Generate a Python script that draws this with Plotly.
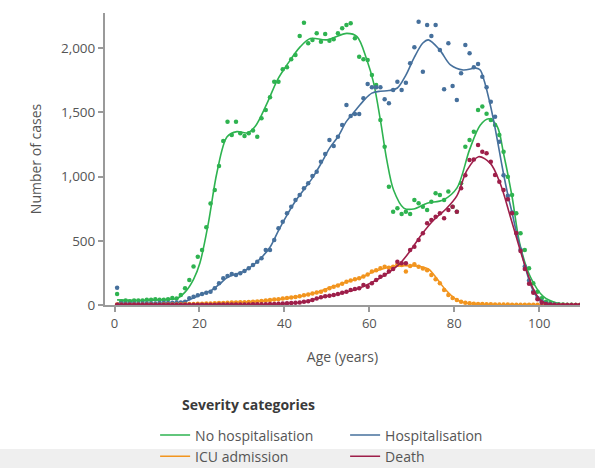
import plotly.graph_objects as go

# ---------------- data ----------------
ages = list(range(110))          # single-year age groups, plotted at mid-year

green_pts = [85, 30, 35, 30, 35, 35, 35, 40, 40, 45,
             40, 40, 45, 55, 50, 78, 130, 195, 300, 376,
             428, 605, 790, 895, 1082, 1277, 1428, 1324, 1428, 1337,
             1316, 1337, 1358, 1311, 1454, 1519, 1618, 1739, 1739, 1835,
             1851, 1913, 1947, 2095, 2199, 2038, 2064, 2116, 2051, 2110,
             2058, 2069, 2116, 2155, 2181, 2194, 2077, 1934, 1913, 1908,
             1791, 1713, 1441, 1233, 921, 727, 753, 709, 727, 709,
             818, 792, 766, 740, 805, 870, 857, 818, 883, 766,
             727, 948, 1233, 1285, 1350, 1519, 1545, 1490, 1441, 1402,
             1324, 1194, 999, 857, 714, 558, 428, 286, 169, 104,
             52, 26, 15, 8, 5, 3, 1, 1, 0, 0]

blue_pts = [135, 12, 10, 10, 10, 10, 12, 12, 12, 12,
            15, 15, 15, 18, 20, 20, 26, 52, 65, 75,
            86, 95, 104, 130, 169, 208, 226, 241, 234, 247,
            265, 286, 312, 337, 364, 428, 428, 506, 597, 649,
            714, 766, 818, 857, 909, 948, 1005, 1038, 1116, 1176,
            1285, 1238, 1311, 1402, 1558, 1472, 1488, 1488, 1610, 1721,
            1695, 1695, 1695, 1602, 1571, 1674, 1739, 1674, 1731, 1882,
            2007, 2206, 1817, 2181, 2095, 2181, 1986, 1680, 2038, 1706,
            1597, 1805, 2025, 1960, 1851, 1877, 1778, 1695, 1583, 1467,
            1272, 1010, 850, 720, 560, 430, 300, 190, 105, 55,
            28, 12, 6, 3, 1, 0, 0, 0, 0, 0]

icu_pts = [3, 2, 2, 2, 2, 2, 2, 2, 2, 2,
           2, 3, 3, 3, 4, 5, 6, 7, 8, 9,
           10, 11, 12, 13, 15, 16, 18, 19, 20, 21,
           22, 24, 26, 28, 32, 35, 38, 42, 45, 50,
           55, 58, 63, 68, 75, 82, 90, 97, 104, 115,
           130, 143, 152, 165, 182, 190, 200, 208, 222, 238,
           260, 270, 286, 298, 290, 298, 315, 311, 260, 304,
           318, 298, 285, 270, 234, 200, 169, 117, 78, 55,
           39, 25, 18, 13, 10, 8, 7, 6, 5, 4,
           4, 3, 3, 2, 2, 2, 1, 1, 1, 1,
           1, 0, 0, 0, 0, 0, 0, 0, 0, 0]

death_pts = [2, 1, 1, 1, 1, 1, 1, 1, 1, 1,
             1, 1, 1, 1, 1, 1, 1, 1, 2, 2,
             2, 2, 2, 2, 3, 3, 3, 3, 3, 4,
             4, 4, 5, 5, 6, 6, 7, 8, 10, 11,
             13, 15, 18, 20, 25, 30, 38, 50, 60, 68,
             72, 78, 86, 96, 104, 117, 125, 130, 156, 143,
             169, 195, 220, 235, 260, 280, 337, 325, 325, 428,
             454, 506, 558, 636, 662, 688, 714, 675, 740, 766,
             727, 909, 1010, 1129, 1134, 1246, 1194, 1181, 1116, 1012,
             960, 896, 823, 714, 560, 420, 280, 165, 95, 45,
             18, 7, 3, 1, 0, 0, 0, 0, 0, 0]

# smoothed curves (same age scale as the groups)
green_fit_age = [0, 5, 10, 14, 16, 18, 19.5, 21.5, 23.5, 25.9, 28.2, 30.6, 32.5, 35.3, 37.7,
                 40, 43.1, 45.5, 49.4, 54.1, 56.5, 58.8, 60.4, 62, 63.5, 65.1, 67.5, 69.8,
                 73, 76.8, 80, 83, 85.5, 87.5, 89.5, 91, 93, 94.8, 97.3, 100.4, 103.5, 106, 109.5]
green_fit = [40, 35, 40, 50, 100, 200, 327, 640, 1030, 1310, 1350, 1340, 1390, 1570, 1750,
             1870, 2010, 2075, 2065, 2115, 2090, 1910, 1730, 1440, 1130, 895, 755, 747,
             793, 818, 910, 1210, 1400, 1450, 1390, 1180, 845, 480, 220, 65, 15, 2, 0]

blue_fit_age = [0, 5, 10, 14, 16, 18, 20, 22, 24, 26, 28, 30, 32, 34, 36, 38, 40, 42, 44, 46,
                48, 50, 52, 54, 56, 58, 60, 62, 64, 66, 68, 70, 72, 73.3, 76, 78.5, 81.5,
                84.5, 85.5, 86.5, 88, 89, 90, 91, 92, 93, 94, 95, 96, 97, 98, 99, 100, 102,
                104, 107, 109.5]
blue_fit = [15, 10, 12, 18, 28, 55, 85, 110, 160, 215, 240, 265, 310, 370, 450, 580, 700,
            810, 900, 990, 1100, 1220, 1310, 1430, 1510, 1590, 1650, 1665, 1670, 1690, 1790,
            1930, 2040, 2065, 1985, 1870, 1830, 1845, 1830, 1740, 1540, 1380, 1200, 1020,
            860, 720, 570, 440, 310, 195, 110, 55, 25, 6, 1, 0, 0]

icu_fit_age = [0, 10, 15, 20, 26, 32, 38.5, 42.3, 46.3, 50, 54, 57.3, 60.4, 63.5, 66.5, 69.5,
               71.4, 73.3, 74.5, 76.1, 77.3, 78.5, 80, 81.6, 84, 88, 95, 100, 109.5]
icu_fit = [2, 2, 4, 9, 17, 26, 46, 65, 91, 135, 180, 212, 258, 290, 305, 305,
           300, 280, 240, 170, 120, 80, 40, 20, 9, 4, 1, 0, 0]

death_fit_age = [0, 30, 36, 40, 44, 48, 52, 56, 60, 64, 66.5, 69, 71.5, 74.5, 77.5, 80, 82.4,
                 85.1, 87.9, 90.2, 92.6, 94.9, 96.5, 98, 99.5, 101, 103, 106, 109.5]
death_fit = [1, 3, 6, 12, 24, 58, 85, 118, 175, 255, 320, 420, 540, 660, 750, 850, 1050,
             1155, 1103, 948, 688, 428, 260, 125, 45, 12, 2, 0, 0]

series_names = ["No hospitalisation", "Hospitalisation", "ICU admission", "Death"]
colors = ["#2eb350", "#46709c", "#f2951f", "#9e1f4a"]

y_ticks = [0, 500, 1000, 1500, 2000]
x_ticks = [0, 20, 40, 60, 80, 100]

MID_YEAR = 0.6   # groups are drawn at the middle of each year of age

# ---------------- figure ----------------
fig = go.Figure()
pts_list = [green_pts, blue_pts, icu_pts, death_pts]
fits = [(green_fit_age, green_fit), (blue_fit_age, blue_fit),
        (icu_fit_age, icu_fit), (death_fit_age, death_fit)]

for name, col, pts, (fa, fv) in zip(series_names, colors, pts_list, fits):
    fig.add_trace(go.Scatter(x=[a + MID_YEAR for a in ages], y=pts, mode="markers",
                             marker=dict(size=4.5, color=col),
                             showlegend=False, legendgroup=name, hoverinfo="skip"))
    fig.add_trace(go.Scatter(x=[a + MID_YEAR for a in fa], y=fv, mode="lines",
                             name=name, legendgroup=name,
                             line=dict(color=col, width=1.6, shape="spline", smoothing=0.9)))

axis_col = "#9a9a9a"
txt_col = "#555555"
font_fam = "Open Sans"

fig.update_layout(
    width=595, height=468,
    margin=dict(l=105, r=15, t=13, b=163, autoexpand=False),
    paper_bgcolor="white", plot_bgcolor="white",
    font=dict(family=font_fam, color=txt_col, size=13),
    xaxis=dict(range=[-2.25, 109.6], tickvals=x_ticks, showgrid=False, zeroline=False,
               showline=True, linecolor=axis_col, linewidth=2,
               ticks="outside", ticklen=5, tickwidth=1.5, tickcolor=axis_col,
               tickfont=dict(size=13, color=txt_col),
               title=dict(text="Age (years)", font=dict(size=14, color=txt_col), standoff=22)),
    yaxis=dict(range=[0, 2274], tickvals=y_ticks, tickformat=",", showgrid=False, zeroline=False,
               showline=True, linecolor=axis_col, linewidth=2,
               ticks="outside", ticklen=5, tickwidth=1.5, tickcolor=axis_col,
               tickfont=dict(size=13.5, color=txt_col),
               title=dict(text="Number of cases", font=dict(size=14, color=txt_col), standoff=16)),
    legend=dict(orientation="h", x=0.1055, xanchor="left", y=-0.392, yanchor="top",
                entrywidth=145, entrywidthmode="pixels", itemwidth=30,
                font=dict(size=14, color=txt_col), bgcolor="rgba(0,0,0,0)",
                tracegroupgap=0),
    showlegend=True,
)

fig.add_annotation(text="<b>Severity categories</b>", xref="paper", yref="paper",
                   x=(180 - 105) / 475, y=(305 - 404) / 292, xanchor="left", yanchor="middle",
                   showarrow=False, font=dict(size=14, color="#3a3a3a", family=font_fam))

# faint grey band along the bottom edge of the frame
fig.add_shape(type="rect", xref="paper", yref="paper",
              x0=-105 / 475, x1=1 + 15 / 475, y0=-163 / 292, y1=-(449 - 305) / 292,
              fillcolor="#efefef", line=dict(width=0), layer="below")

fig.write_html("out.html")
